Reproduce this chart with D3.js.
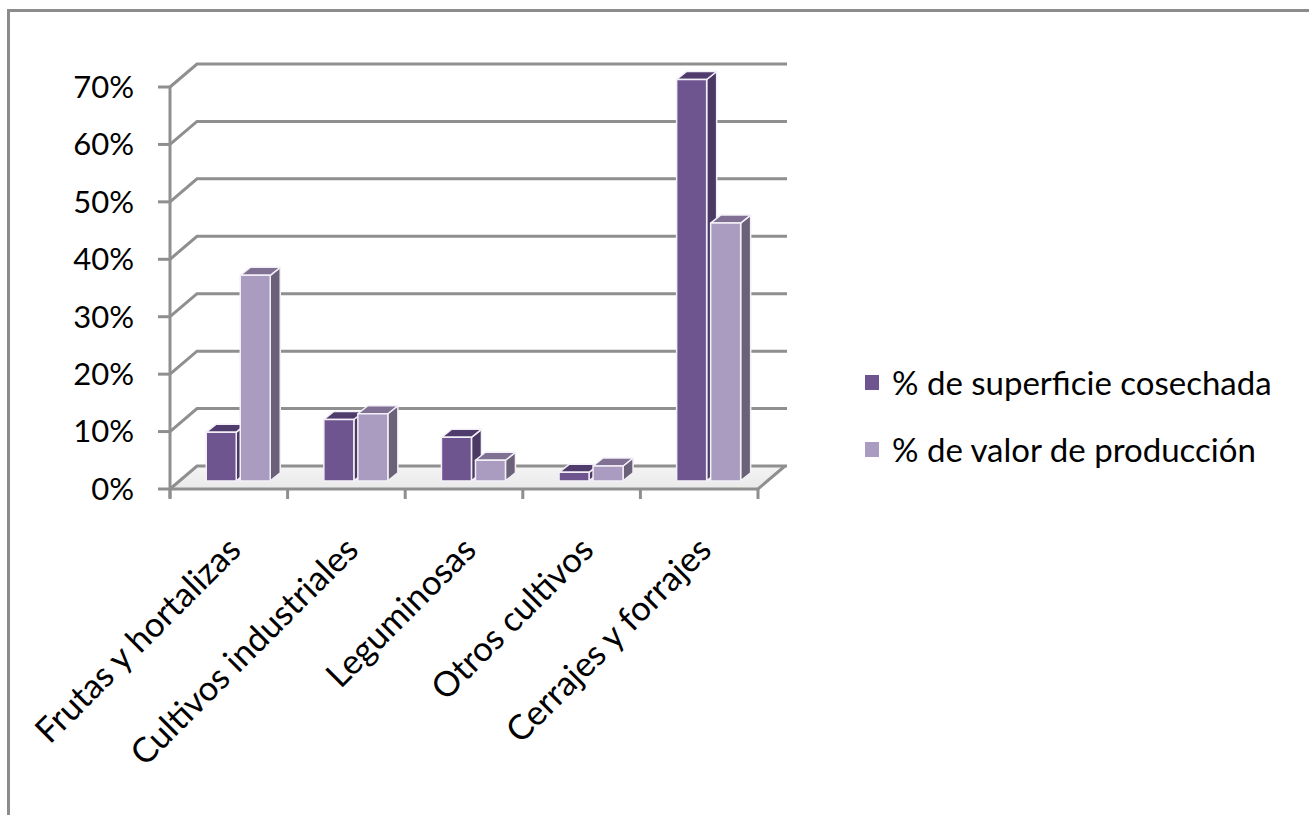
<!DOCTYPE html>
<html><head><meta charset="utf-8">
<script src="https://cdn.jsdelivr.net/npm/d3@7"></script>
<style>body{margin:0;background:#fff}svg{display:block}</style>
</head><body>
<script>
const categories = ["Frutas y hortalizas","Cultivos industriales","Leguminosas","Otros cultivos","Cerrajes y forrajes"];
const seriesNames = ["% de superficie cosechada","% de valor de producción"];
const superficie = [0.085, 0.107, 0.076, 0.015, 0.699];
const valor = [0.358, 0.117, 0.036, 0.026, 0.449];
const yTicks = [0,0.1,0.2,0.3,0.4,0.5,0.6,0.7];

const W=1309,H=815;
const font="Lato, 'Open Sans', sans-serif";
const svg=d3.select("body").append("svg").attr("width",W).attr("height",H);
svg.append("rect").attr("x",8.5).attr("y",10.5).attr("width",1400).attr("height",900)
  .attr("fill","#fff").attr("stroke","#8c8c8c").attr("stroke-width",3);

const x=d3.scaleBand().domain(categories).range([170,758]).paddingInner(0).paddingOuter(0);
const y=d3.scaleLinear().domain([0,0.7]).range([489,87]);
const DX=27, DY=-23;
const grid="#8f8f8f";

// floor
const y0=y(0);
const defs=svg.append("defs");
const fg=defs.append("linearGradient").attr("id","floor").attr("x1",0).attr("y1",0).attr("x2",0).attr("y2",1);
fg.append("stop").attr("offset","0%").attr("stop-color","#f4f4f4");
fg.append("stop").attr("offset","100%").attr("stop-color","#e9e9e9");
svg.append("path").attr("d",`M170,${y0}L758,${y0}L${758+DX},${y0+DY}L${170+DX},${y0+DY}Z`)
  .attr("fill","url(#floor)");

// back wall gridlines
yTicks.forEach(t=>{
  const yy=y(t);
  svg.append("path").attr("d",`M170,${yy}L${170+DX},${yy+DY}L${758+DX+2},${yy+DY}`)
    .attr("fill","none").attr("stroke",grid).attr("stroke-width",3);
  svg.append("line").attr("x1",158).attr("x2",170).attr("y1",yy).attr("y2",yy)
    .attr("stroke",grid).attr("stroke-width",3);
  svg.append("text").attr("x",134).attr("y",yy).attr("dy","0.35em").attr("text-anchor","end")
    .attr("font-family",font).attr("font-size",31).attr("fill","#000")
    .text(d3.format(".0%")(t));
});
// front floor edge
svg.append("path").attr("d",`M170,${y0}L758,${y0}L${758+DX},${y0+DY}`)
  .attr("fill","none").attr("stroke",grid).attr("stroke-width",3);
svg.append("line").attr("x1",170).attr("x2",170).attr("y1",y(0.7)).attr("y2",y0+9)
  .attr("stroke",grid).attr("stroke-width",3);
categories.concat([null]).forEach((c,i)=>{
  const xx = c===null ? 758 : x(c);
  svg.append("line").attr("x1",xx).attr("x2",xx).attr("y1",y0).attr("y2",y0+10)
    .attr("stroke",grid).attr("stroke-width",3);
});

// bars
const colors=[
  {front:"#6f5590",top:"#4f3c6c",side:"#4a3962"},
  {front:"#aa9bc1",top:"#7f7094",side:"#6b6178"}
];
const f0=0.35, bdx=10, bdy=-8, bw=30, gap=4;
const barPad=(x.bandwidth()-2*bw-gap)/2;
const data=[superficie,valor];
categories.forEach((c,ci)=>{
  data.forEach((vals,si)=>{
    const v=vals[ci];
    const xl=x(c)+barPad+si*(bw+gap)+DX*f0;
    const yb=y0+DY*f0;
    const h=y0-y(v);
    const yt=yb-h;
    const col=colors[si];
    const g=svg.append("g").attr("stroke","#f3eff7").attr("stroke-width",1.5).attr("stroke-linejoin","round");
    g.append("path").attr("d",`M${xl+bw},${yb}L${xl+bw+bdx},${yb+bdy}L${xl+bw+bdx},${yt+bdy}L${xl+bw},${yt}Z`).attr("fill",col.side);
    g.append("path").attr("d",`M${xl},${yt}L${xl+bdx},${yt+bdy}L${xl+bw+bdx},${yt+bdy}L${xl+bw},${yt}Z`).attr("fill",col.top);
    g.append("rect").attr("x",xl).attr("y",yt).attr("width",bw).attr("height",h).attr("fill",col.front);
  });
  // category label
  const cx=x(c)+x.bandwidth()/2+14;
  svg.append("text").attr("transform",`translate(${cx},${552}) rotate(-45)`)
    .attr("text-anchor","end").attr("font-family",font).attr("font-size",34.5).attr("fill","#000")
    .text(c);
});

// legend
const leg=[{y:383},{y:450}];
seriesNames.forEach((n,i)=>{
  svg.append("rect").attr("x",865).attr("y",leg[i].y-8).attr("width",14).attr("height",15)
    .attr("fill",colors[i].front);
  svg.append("text").attr("x",892).attr("y",leg[i].y).attr("dy","0.35em")
    .attr("font-family",font).attr("font-size",33).attr("fill","#000").text(n);
});
</script>
</body></html>
